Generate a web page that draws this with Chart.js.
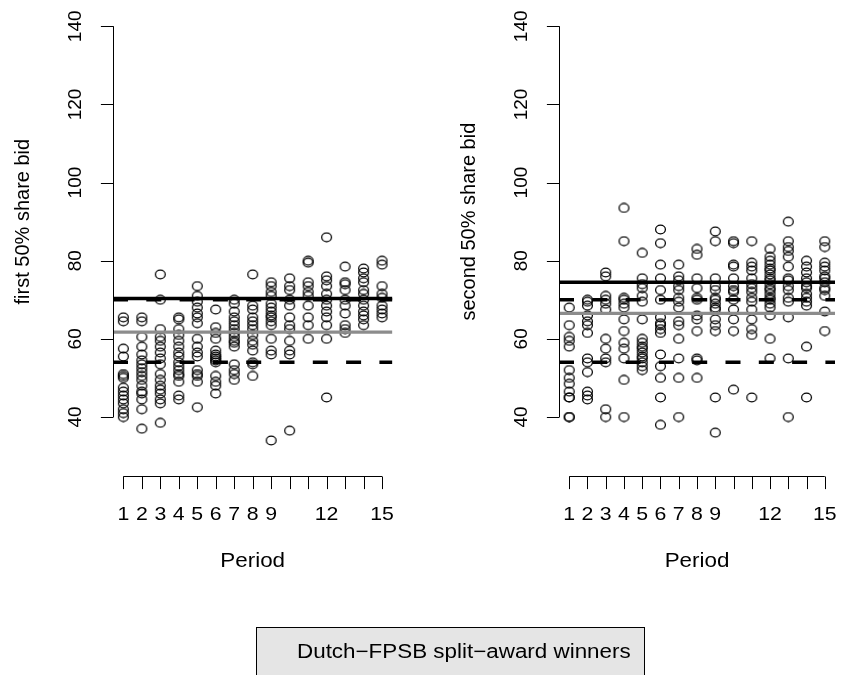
<!DOCTYPE html>
<html>
<head>
<meta charset="utf-8">
<script src="https://cdn.jsdelivr.net/npm/chart.js@4.4.1/dist/chart.umd.min.js"></script>
<style>
  html, body { margin: 0; padding: 0; background: #fff; }
  #wrap { position: relative; width: 841px; height: 675px; overflow: hidden; }
  #wrap canvas { position: absolute; left: 0; top: 0; }
</style>
</head>
<body>
<div id="wrap">
  <canvas id="panelA" width="841" height="675"></canvas>
  <canvas id="panelB" width="841" height="675"></canvas>
</div>
<script>
// periods on the x axis, and the labels R kept under the ticks
const periods = [1, 2, 3, 4, 5, 6, 7, 8, 9, 10, 11, 12, 13, 14, 15];
const periodLabels = ["1", "2", "3", "4", "5", "6", "7", "8", "9", "", "", "12", "", "", "15"];
const bidTicks = [40, 60, 80, 100, 120, 140];

// first 50% share bid, one list per period
const firstBids = [
  [65.5, 64.5, 57.5, 55.5, 51, 50.5, 50, 47.5, 46.5, 45.5, 44.5, 43.5, 42, 41, 40],
  [65.5, 64.5, 60.5, 58, 56, 54.5, 53.5, 52.5, 51.5, 50.5, 49.5, 48, 46.5, 46, 44.5, 42, 37],
  [76.5, 70, 62.5, 60.5, 59.5, 58, 56.5, 55, 53.5, 51, 49.5, 48, 47, 46, 44.5, 43.5, 38.5],
  [65.5, 65, 62.5, 61, 59.5, 58, 56.5, 55.5, 54, 53, 52, 51, 50.5, 49, 45.5, 44.5],
  [73.5, 71, 69.5, 68, 66.5, 65.5, 64, 60, 58, 56.5, 55.5, 52, 51, 50.5, 49, 42.5],
  [67.5, 63, 61.5, 60, 57, 56, 55.5, 55, 54.5, 54, 50.5, 49, 48, 46],
  [70, 69, 67, 65.5, 64.5, 63.5, 62.5, 61.5, 60.5, 59.5, 59, 58, 53.5, 52, 51, 49.5],
  [76.5, 68.5, 67.5, 65.5, 64.5, 63.5, 62.5, 61, 59.5, 58.5, 57, 54, 53.5, 50.5],
  [74.5, 73.5, 72, 71, 69, 68, 67, 66, 65.5, 64.5, 63.5, 60, 57, 56, 34],
  [75.5, 73.5, 72.5, 70, 68.5, 65.5, 63.5, 62.5, 59.5, 57, 56, 36.5],
  [80, 79.5, 74.5, 73.5, 72, 71, 68.5, 65.5, 63.5, 60],
  [86, 76, 75, 73.5, 71.5, 70, 68.5, 67, 65.5, 63.5, 60, 45],
  [78.5, 74.5, 74, 72.5, 70, 68.5, 66.5, 63.5, 62.5, 61.5],
  [78, 77, 75.5, 74.5, 72.5, 71.5, 70, 68.5, 67, 66, 65, 63.5],
  [80, 79, 73.5, 71.5, 70.5, 68.5, 67.5, 66.5, 65.5]
];

// second 50% share bid, one list per period
const secondBids = [
  [68, 63.5, 60.5, 59.5, 58, 52, 50, 48.5, 46.5, 45, 45, 40, 40],
  [70, 69.5, 68.5, 66, 64.5, 63.5, 61.5, 55, 54, 51.5, 46.5, 45.5, 44.5],
  [77, 76, 71, 70, 69, 67.5, 60, 57.5, 55, 54, 42, 40],
  [93.5, 85, 70.5, 70, 69, 68, 65, 62, 59, 57.5, 55, 49.5, 40],
  [82, 75.5, 74, 73, 71, 69.5, 65, 60, 59, 58, 57.5, 56.5, 55.5, 55, 54, 53, 52],
  [88, 84.5, 79, 75.5, 72.5, 70, 65.5, 64, 63.5, 62.5, 61.5, 56, 53, 50, 45, 38],
  [79, 76, 75, 73.5, 72.5, 70.5, 69.5, 68, 64.5, 63.5, 60, 55, 50, 40],
  [83, 81.5, 75.5, 73, 70.5, 70, 66, 65, 62, 55, 54.5, 50],
  [87.5, 85, 75.5, 73.5, 72.5, 70.5, 70, 69, 68, 67.5, 65, 63.5, 62, 45, 36],
  [85, 84.5, 79, 78.5, 75.5, 73.5, 72.5, 72, 70, 67.5, 65, 62, 47],
  [85, 79.5, 78.5, 77.5, 75.5, 74, 73, 72, 70.5, 69.5, 67.5, 65, 62.5, 61, 45],
  [83, 81, 80, 79, 78, 77.5, 76.5, 75.5, 75, 74, 73, 72.5, 71.5, 70.5, 70, 69, 68, 66, 60, 55],
  [90, 85, 83.5, 82.5, 81, 78.5, 75.5, 75, 73.5, 72.5, 70.5, 69.5, 65.5, 55, 40],
  [80, 78.5, 77, 75.5, 74.5, 73.5, 73, 71.5, 70.5, 69.5, 68.5, 58, 45],
  [85, 83.5, 79.5, 78.5, 77.5, 76, 75.5, 74.5, 73, 72.5, 71, 67, 62]
];

// horizontal reference lines (solid = mean, grey = other mean, dashed = predictions)
const firstSolid = 70.3;
const firstGrey = 61.7;
const secondSolid = 74.5;
const secondGrey = 66.5;
const dashedLevels = [70, 54];

const FONT = '"Liberation Sans", Arial, Helvetica, sans-serif';
const SX = 1.12; // horizontal text looks a bit wide in the original
const X_MIN = 0.44, X_MAX = 15.56;
const Y_MIN = 24.9, Y_MAX = 144.4;
const TICK = 12.6;

const ring = (() => {
  const c = document.createElement("canvas");
  c.width = 13; c.height = 11;
  const g = c.getContext("2d");
  g.strokeStyle = "#000";
  g.lineWidth = 1.25;
  g.beginPath();
  g.ellipse(6.5, 5.5, 4.9, 4.3, 0, 0, Math.PI * 2);
  g.stroke();
  return c;
})();

const hText = (ctx, txt, x, y, align) => {
  ctx.save();
  ctx.translate(x, y);
  ctx.scale(SX, 1);
  ctx.textAlign = align || "center";
  ctx.fillText(txt, 0, 0);
  ctx.restore();
};

const rAxes = {
  id: "rAxes",
  afterDraw(chart, args, opts) {
    const { ctx, chartArea } = chart;
    const xs = chart.scales.x, ys = chart.scales.y;
    const left = Math.round(chartArea.left) + 0.5;
    const bottom = Math.round(chartArea.bottom) + 0.5;
    ctx.save();
    ctx.strokeStyle = "#000";
    ctx.fillStyle = "#000";
    ctx.lineWidth = 1;

    // y axis
    ctx.beginPath();
    ctx.moveTo(left, ys.getPixelForValue(bidTicks[0]));
    ctx.lineTo(left, ys.getPixelForValue(bidTicks[bidTicks.length - 1]));
    bidTicks.forEach((v) => {
      const py = Math.round(ys.getPixelForValue(v)) + 0.5;
      ctx.moveTo(left, py);
      ctx.lineTo(left - TICK, py);
    });
    // x axis
    ctx.moveTo(xs.getPixelForValue(periods[0]), bottom);
    ctx.lineTo(xs.getPixelForValue(periods[periods.length - 1]), bottom);
    periods.forEach((p) => {
      const px = Math.round(xs.getPixelForValue(p)) + 0.5;
      ctx.moveTo(px, bottom);
      ctx.lineTo(px, bottom + TICK);
    });
    ctx.stroke();

    ctx.font = "19px " + FONT;
    ctx.textBaseline = "alphabetic";
    bidTicks.forEach((v) => {
      ctx.save();
      ctx.translate(left - 33, ys.getPixelForValue(v));
      ctx.rotate(-Math.PI / 2);
      ctx.textAlign = "center";
      ctx.fillText(String(v), 0, 0);
      ctx.restore();
    });
    periods.forEach((p, i) => {
      if (periodLabels[i]) hText(ctx, periodLabels[i], xs.getPixelForValue(p), 520);
    });

    // titles
    ctx.font = "20px " + FONT;
    hText(ctx, "Period", xs.getPixelForValue(8), 567);
    ctx.save();
    ctx.translate(left - 85, ys.getPixelForValue(90));
    ctx.rotate(-Math.PI / 2);
    ctx.textAlign = "center";
    ctx.fillText(opts.ylab, 0, 0);
    ctx.restore();

    if (opts.legend) {
      ctx.fillStyle = "#e5e5e5";
      ctx.fillRect(256, 627.5, 388, 60);
      ctx.strokeRect(256.5, 627.5, 388, 60);
      ctx.fillStyle = "#000";
      ctx.font = "20px " + FONT;
      hText(ctx, opts.legend, 297, 658, "left");
    }
    ctx.restore();
  }
};

const hLine = (v, color, width, dash) => ({
  type: "line",
  data: [{ x: X_MIN, y: v }, { x: X_MAX, y: v }],
  borderColor: color,
  borderWidth: width,
  borderDash: dash || [],
  borderCapStyle: "butt",
  pointRadius: 0,
  order: 0
});

const makePanel = (id, bids, solid, grey, ylab, legend, padLeft, padRight) => {
  const pts = [];
  periods.forEach((p, i) => bids[i].forEach((v) => pts.push({ x: p, y: v })));
  return new Chart(document.getElementById(id), {
    type: "scatter",
    data: {
      datasets: [
        {
          data: pts,
          pointStyle: ring,
          pointRadius: 5,
          pointHoverRadius: 5,
          order: 1
        },
        hLine(solid, "#000", 3.5),
        hLine(grey, "#8c8c8c", 3.3),
        ...dashedLevels.map((v) => hLine(v, "#000", 3.5, [15, 18.3]))
      ]
    },
    options: {
      responsive: false,
      animation: false,
      devicePixelRatio: 1,
      layout: { padding: { left: padLeft, right: padRight, top: 9.1, bottom: 199 } },
      scales: {
        x: { type: "linear", min: X_MIN, max: X_MAX, display: false },
        y: { type: "linear", min: Y_MIN, max: Y_MAX, display: false }
      },
      plugins: {
        legend: { display: false },
        tooltip: { enabled: false },
        rAxes: { ylab, legend }
      }
    },
    plugins: [rAxes]
  });
};

makePanel("panelA", firstBids, firstSolid, firstGrey, "first 50% share bid", null, 113, 448.6);
makePanel("panelB", secondBids, secondSolid, secondGrey, "second 50% share bid",
  "Dutch\u2212FPSB split\u2212award winners", 559, 2.6);
</script>
</body>
</html>
